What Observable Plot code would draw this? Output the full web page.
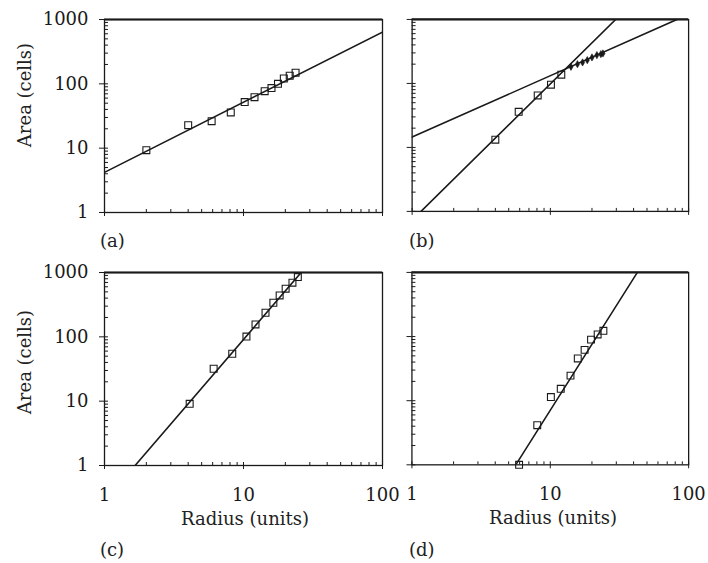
<!DOCTYPE html>
<html><head><meta charset="utf-8">
<script src="https://cdn.jsdelivr.net/npm/d3@7"></script>
<script src="https://cdn.jsdelivr.net/npm/@observablehq/plot@0.6"></script>
<style>
body{margin:0;background:#fff;}
#wrap{position:relative;width:708px;height:563px;font-family:"DejaVu Serif",serif;color:#222;overflow:hidden;}
.lbl{position:absolute;font-size:18px;white-space:nowrap;line-height:1;}
.plot-holder{position:absolute;}
</style></head><body><div id="wrap"></div>
<script>
// ---- tick values ----
const xTicksMajor = [1, 10, 100];
const xTicksMinor = [2, 3, 4, 5, 6, 7, 8, 9, 20, 30, 40, 50, 60, 70, 80, 90];
const yTicksMajor = [1, 10, 100, 1000];
const yTicksMinor = [2, 3, 4, 5, 6, 7, 8, 9, 20, 30, 40, 50, 60, 70, 80, 90, 200, 300, 400, 500, 600, 700, 800, 900];

// ---- panel labels / axis titles ----
const panelLabels = ["(a)", "(b)", "(c)", "(d)"];
const xTitle = "Radius (units)";
const yTitle = "Area (cells)";

// ---- panel (a) ----
const aRadius = [2.0, 4.0, 5.9, 8.1, 10.2, 12.0, 14.2, 15.9, 17.7, 19.5, 21.5, 23.7];
const aArea   = [9.3, 22.8, 26.3, 35.9, 52, 62, 77, 86, 100, 121, 134, 149];
const aFitRadius = [1, 100];
const aFitArea   = [4.2, 637];

// ---- panel (b) ----
const bRadius = [4.0, 5.9, 8.1, 10.1, 12.0];
const bArea   = [13.2, 36, 65, 95.5, 137];
const bDiamondRadius = [14.1, 15.7, 17.1, 18.5, 20.0, 21.7, 23.2, 24.0];
const bDiamondArea   = [182, 200, 213, 231, 255, 277, 287, 294];
const bFit1Radius = [1.16, 29.7];
const bFit1Area   = [1, 1000];
const bFit2Radius = [1, 82.4];
const bFit2Area   = [14.5, 1000];

// ---- panel (c) ----
const cRadius = [4.1, 6.1, 8.3, 10.5, 12.2, 14.4, 16.4, 18.2, 20.1, 22.5, 24.6];
const cArea   = [9.1, 31.9, 54.6, 101, 156, 237, 339, 440, 560, 694, 849];
const cFitRadius = [1.66, 26];
const cFitArea   = [1, 1000];

// ---- panel (d) ----
const dRadius = [5.95, 8.05, 10.1, 11.9, 14.0, 15.8, 17.7, 19.7, 22.0, 24.2];
const dArea   = [1.0, 4.15, 11.4, 15.3, 24.6, 45.6, 62, 89.6, 108, 123];
const dFitRadius = [5.63, 42.6];
const dFitArea   = [1, 1000];

const zip = (xs, ys) => xs.map((x, i) => ({x, y: ys[i]}));

const panels = [
  {frameLeft: 104, frameTop: 19, w: 278, h: 193, squares: zip(aRadius, aArea), diamonds: [], fits: [zip(aFitRadius, aFitArea)], showX: false, showY: true},
  {frameLeft: 412, frameTop: 19, w: 278, h: 193, squares: zip(bRadius, bArea), diamonds: zip(bDiamondRadius, bDiamondArea), fits: [zip(bFit1Radius, bFit1Area), zip(bFit2Radius, bFit2Area)], showX: false, showY: false},
  {frameLeft: 104, frameTop: 272, w: 278, h: 193, squares: zip(cRadius, cArea), diamonds: [], fits: [zip(cFitRadius, cFitArea)], showX: true, showY: true},
  {frameLeft: 412, frameTop: 272, w: 279, h: 194, squares: zip(dRadius, dArea), diamonds: [], fits: [zip(dFitRadius, dFitArea)], showX: true, showY: false}
];

const ML = 70, MR = 20, MT = 10, MB = 50;
const wrap = document.getElementById("wrap");
const ink = "#1a1a1a";

panels.forEach(p => {
  const marks = [
    // minor ticks pointing inward
    Plot.axisY({ticks: [...yTicksMajor, ...yTicksMinor], tickSize: -4, tickFormat: () => "", label: null, stroke: ink}),
    Plot.axisX({ticks: [...xTicksMajor, ...xTicksMinor], tickSize: -3, tickFormat: () => "", label: null, stroke: ink}),
    // major ticks outward, with labels where needed
    Plot.axisY({ticks: yTicksMajor, tickSize: 5, tickPadding: 11, tickFormat: p.showY ? (d => String(d)) : (() => ""), label: null, stroke: ink, fill: ink}),
    Plot.axisX({ticks: xTicksMajor, tickSize: 4, tickPadding: 19, tickFormat: p.showX ? (d => String(d)) : (() => ""), label: null, stroke: ink, fill: ink}),
    Plot.frame({stroke: ink, strokeWidth: 1.3}),
    Plot.ruleY([1000], {stroke: ink, strokeWidth: 2.2}),
    ...p.fits.map(f => Plot.line(f, {x: "x", y: "y", stroke: ink, strokeWidth: 1.6, clip: true})),
    Plot.dot(p.squares, {x: "x", y: "y", symbol: "square", r: 3.9, stroke: ink, strokeWidth: 1.1, fill: "none"}),
    Plot.dot(p.diamonds, {x: "x", y: "y", symbol: "diamond", r: 2.2, fill: ink, stroke: ink, strokeWidth: 0.6})
  ];
  const chart = Plot.plot({
    width: p.w + ML + MR,
    height: p.h + MT + MB,
    marginLeft: ML, marginRight: MR, marginTop: MT, marginBottom: MB,
    x: {type: "log", domain: [1, 100]},
    y: {type: "log", domain: [1, 1000]},
    style: {background: "transparent", fontFamily: "DejaVu Serif, serif", fontSize: "18px", color: ink, overflow: "visible"},
    marks
  });
  const holder = document.createElement("div");
  holder.className = "plot-holder";
  holder.style.left = (p.frameLeft - ML) + "px";
  holder.style.top = (p.frameTop - MT) + "px";
  holder.appendChild(chart);
  wrap.appendChild(holder);
});

function addLabel(text, left, top, extra) {
  const d = document.createElement("div");
  d.className = "lbl";
  d.textContent = text;
  d.style.left = left + "px";
  d.style.top = top + "px";
  if (extra) Object.assign(d.style, extra);
  wrap.appendChild(d);
  return d;
}
// panel labels
addLabel(panelLabels[0], 100, 232);
addLabel(panelLabels[1], 409, 232);
addLabel(panelLabels[2], 100, 541);
addLabel(panelLabels[3], 409, 541);
// x titles
addLabel(xTitle, 245, 510, {transform: "translateX(-50%)"});
addLabel(xTitle, 553, 509, {transform: "translateX(-50%)"});
// y titles (rotated)
addLabel(yTitle, 25, 95, {transform: "translate(-50%,-50%) rotate(-90deg)", left: "25px", top: "95px"});
addLabel(yTitle, 25, 362, {transform: "translate(-50%,-50%) rotate(-90deg)", left: "25px", top: "362px"});
</script>
</body></html>
